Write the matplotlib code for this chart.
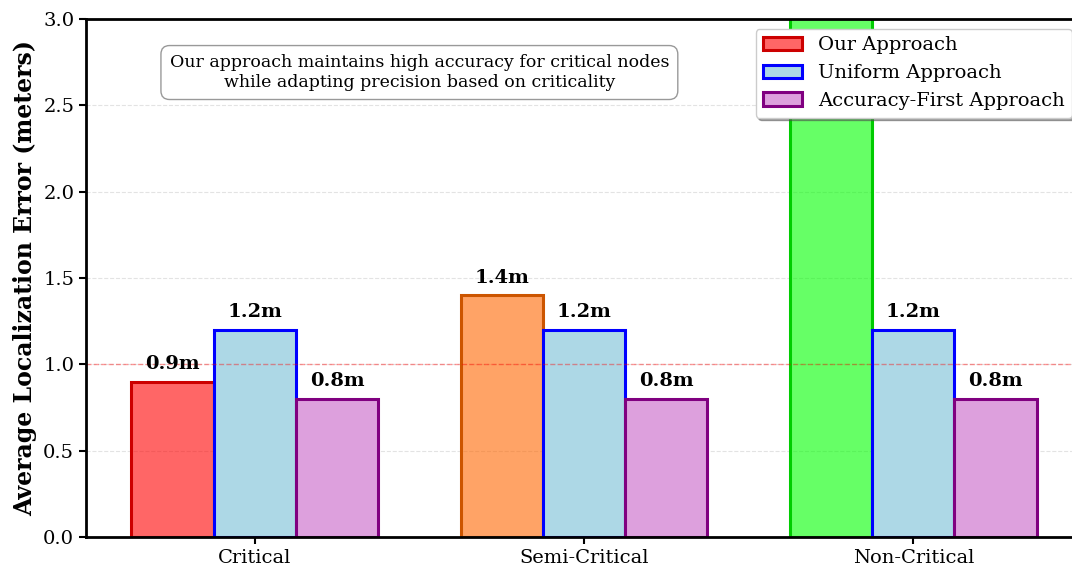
import numpy as np
import matplotlib.pyplot as plt
from matplotlib.colors import to_rgba

plt.rcParams['font.family'] = 'DejaVu Serif'

categories = ['Critical', 'Semi-Critical', 'Non-Critical']
our_vals = [0.9, 1.4, 3.5]
uniform_vals = [1.2, 1.2, 1.2]
accuracy_vals = [0.8, 0.8, 0.8]

our_fill = ['#ff0000', '#ff6600', '#00ff00']
our_edge = ['#cc0000', '#cc5500', '#00cc00']

fig = plt.figure(figsize=(10.72, 5.67), dpi=100)
ax = fig.add_axes([86 / 1072, 30 / 567, 996 / 1072, 518 / 567])

x = np.arange(len(categories))
w = 0.25
ymax = 3.0

b1 = ax.bar(x - w, our_vals, w, color=[to_rgba(c, 0.6) for c in our_fill],
            edgecolor=our_edge, linewidth=2.2, label='Our Approach')
b2 = ax.bar(x, uniform_vals, w, color='lightblue', edgecolor='blue',
            linewidth=2.2, label='Uniform Approach')
b3 = ax.bar(x + w, accuracy_vals, w, color='plum', edgecolor='purple',
            linewidth=2.2, label='Accuracy-First Approach')

# value labels (the off-scale bar's label falls outside the plot)
for bars in (b1, b2, b3):
    for bar in bars:
        h = bar.get_height()
        if h + 0.05 > ymax:
            continue
        ax.text(bar.get_x() + bar.get_width() / 2, h + 0.05, f'{h:.1f}m',
                ha='center', va='bottom', fontsize=14, fontweight='bold')

ax.axhline(1.0, color='red', linestyle='--', alpha=0.4, linewidth=1)

ax.set_ylim(0, ymax)
ax.set_xlim(-0.5125, 2.5125)
ax.set_xticks(x)
ax.set_xticklabels(categories, fontsize=14)
ax.tick_params(axis='both', labelsize=14, width=1.5, length=5)
ax.set_ylabel('Average Localization Error (meters)', fontsize=17, fontweight='bold')
ax.yaxis.grid(True, linestyle='--', alpha=0.35)
ax.set_axisbelow(True)
for s in ax.spines.values():
    s.set_linewidth(2)

ax.legend(loc='upper right', fontsize=14, shadow=True, fancybox=True)

ax.text(0.5, 2.69, 'Our approach maintains high accuracy for critical nodes\nwhile adapting precision based on criticality',
        ha='center', va='center', fontsize=12.5,
        bbox=dict(boxstyle='round,pad=0.5', facecolor='white', edgecolor='gray', alpha=0.8))

fig.savefig('out.png', dpi=100)
